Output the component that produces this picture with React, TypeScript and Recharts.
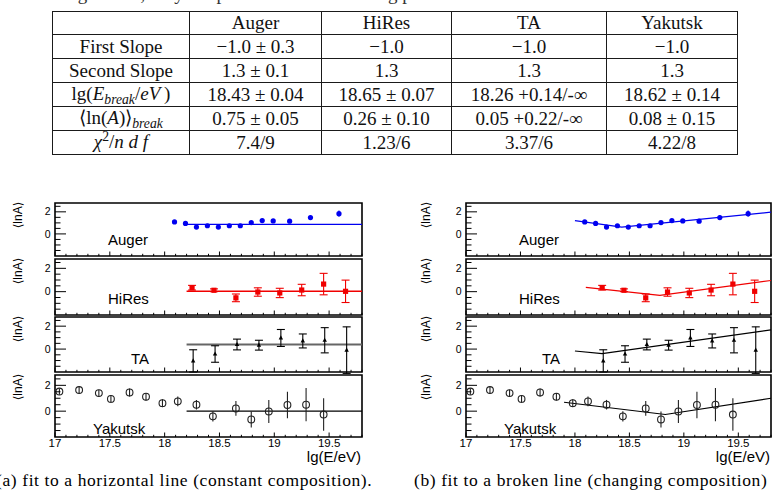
import React from 'react';
import { ComposedChart, Scatter, Line, XAxis, YAxis, ErrorBar, ReferenceArea } from 'recharts';

// ---------- table data ----------
const detectors = ['Auger', 'HiRes', 'TA', 'Yakutsk'];
const firstSlope = ['−1.0 ± 0.3', '−1.0', '−1.0', '−1.0'];
const secondSlope = ['1.3 ± 0.1', '1.3', '1.3', '1.3'];
const lgEbreak = ['18.43 ± 0.04', '18.65 ± 0.07', '18.26 +0.14/-∞', '18.62 ± 0.14'];
const lnAbreak = ['0.75 ± 0.05', '0.26 ± 0.10', '0.05 +0.22/-∞', '0.08 ± 0.15'];
const chi2ndf = ['7.4/9', '1.23/6', '3.37/6', '4.22/8'];

// ---------- axes ----------
const X_DOMAIN: [number, number] = [17, 19.8];
const Y_DOMAIN: [number, number] = [-2, 2.8];
const xMajorTicks = [17, 17.5, 18, 18.5, 19, 19.5];
const xMajorLabels = ['17', '17.5', '18', '18.5', '19', '19.5'];
const yMajorTicks = [0, 2];
const yMajorLabels = ['0', '2'];
const yMinorTicks = [-1.5, -1, -0.5, 0.5, 1, 1.5, 2.5];

// ---------- data ----------
const augerX = [18.09, 18.19, 18.29, 18.39, 18.49, 18.59, 18.69, 18.79, 18.89, 18.99, 19.14, 19.33, 19.59];
const augerY = [1.09, 0.95, 0.62, 0.74, 0.62, 0.74, 0.74, 1.03, 1.21, 1.18, 1.15, 1.48, 1.83];
const augerErr = [0.07, 0.07, 0.07, 0.07, 0.07, 0.07, 0.08, 0.09, 0.1, 0.1, 0.1, 0.18, 0.28];

const hiresX = [18.25, 18.45, 18.65, 18.85, 19.05, 19.25, 19.45, 19.65];
const hiresY = [0.34, 0.12, -0.53, -0.03, -0.11, 0.14, 0.65, 0.03];
const hiresErr = [0.2, 0.12, 0.33, 0.36, 0.4, 0.49, 0.92, 0.96];

const taX = [18.26, 18.46, 18.66, 18.86, 19.06, 19.26, 19.46, 19.66];
const taY = [-1.03, -0.43, 0.4, 0.34, 0.97, 0.71, 0.77, -0.09];
const taErr = [0.97, 0.72, 0.47, 0.43, 0.74, 0.61, 1.1, 2.03];

const yakX = [17.04, 17.22, 17.4, 17.51, 17.68, 17.83, 17.98, 18.12, 18.29, 18.44, 18.65, 18.79, 18.95, 19.12, 19.29, 19.45];
const yakY = [1.52, 1.64, 1.4, 0.95, 1.45, 1.12, 0.62, 0.76, 0.5, -0.4, 0.21, -0.64, -0.02, 0.48, 0.5, -0.26];
const yakErr = [0.24, 0.27, 0.26, 0.29, 0.31, 0.29, 0.31, 0.38, 0.37, 0.4, 0.57, 0.62, 0.89, 1.02, 1.29, 1.26];

// fits: (a) horizontal line, (b) broken line
const augerFlatX = [18.2, 19.8];
const augerFlatY = [0.86, 0.86];
const hiresFlatX = [18.2, 19.8];
const hiresFlatY = [0.03, 0.03];
const taFlatX = [18.2, 19.8];
const taFlatY = [0.4, 0.4];
const yakFlatX = [18.2, 19.8];
const yakFlatY = [0, 0];

const augerBrokenX = [18.0, 18.43, 19.8];
const augerBrokenY = [1.2, 0.62, 1.97];
const hiresBrokenX = [18.1, 18.78, 19.8];
const hiresBrokenY = [0.37, -0.32, 0.96];
const taBrokenX = [18.0, 18.25, 19.8];
const taBrokenY = [-0.17, -0.4, 1.68];
const yakBrokenX = [17.9, 18.83, 19.8];
const yakBrokenY = [0.69, -0.26, 1.0];

const captionA = '(a) fit to a horizontal line (constant composition).';
const captionB = '(b) fit to a broken line (changing composition)';
const topText = 'the target ones, only the position of the breaking point were fitted.';

// ---------- helpers ----------
const zip = (xs: number[], ys: number[], es?: number[]) =>
  xs.map((x, i) => ({ x, y: ys[i], err: es ? es[i] : 0 }));

const xTickList: number[] = [];
for (let i = 0; i <= 28; i++) xTickList.push(Math.round((17 + i * 0.1) * 10) / 10);
const yTickList = [...yMajorTicks, ...yMinorTicks].sort((a, b) => a - b);

const SANS = '"Liberation Sans", Arial, Helvetica, sans-serif';
const SERIF = '"Liberation Serif", "Times New Roman", serif';

const XTick = (props: any) => {
  const { x, y, payload, showLabel } = props;
  const v = payload.value;
  const idx = xMajorTicks.findIndex((t) => Math.abs(t - v) < 1e-6);
  const major = idx >= 0;
  return (
    <g>
      <line x1={x} x2={x} y1={y} y2={y - (major ? 4.5 : 2.2)} stroke="#000" strokeWidth={1} />
      {showLabel && major && (
        <text x={x} y={y + 10} textAnchor="middle" fontSize={11.5} fontFamily={SANS} fill="#000">
          {xMajorLabels[idx]}
        </text>
      )}
    </g>
  );
};

const YTick = (props: any) => {
  const { x, y, payload } = props;
  const v = payload.value;
  const idx = yMajorTicks.findIndex((t) => Math.abs(t - v) < 1e-6);
  const major = idx >= 0;
  return (
    <g>
      <line x1={x} x2={x + (major ? 11 : 5.5)} y1={y} y2={y} stroke="#000" strokeWidth={1} />
      {major && (
        <text x={x - 4.5} y={y + 3.6} textAnchor="end" fontSize={10.5} fontFamily={SANS} fill="#000">
          {yMajorLabels[idx]}
        </text>
      )}
    </g>
  );
};

type Marker = 'circle' | 'square' | 'triangle' | 'open';

const makeShape = (marker: Marker, color: string) => (p: any) => {
  const { cx, cy } = p;
  if (cx == null || cy == null) return <g />;
  if (marker === 'circle') return <circle cx={cx} cy={cy} r={2.6} fill={color} />;
  if (marker === 'square') return <rect x={cx - 2.6} y={cy - 2.6} width={5.2} height={5.2} fill={color} />;
  if (marker === 'triangle')
    return <polygon points={`${cx},${cy - 2.6} ${cx - 2.2},${cy + 1.6} ${cx + 2.2},${cy + 1.6}`} fill={color} />;
  return <circle cx={cx} cy={cy} r={3.4} fill="none" stroke={color} strokeWidth={1.1} />;
};

type SubProps = {
  frameLeft: number;
  frameRight: number;
  frameTop: number;
  frameBottom: number;
  showXLabels: boolean;
  data: { x: number; y: number; err: number }[];
  fit: { x: number; y: number; err: number }[];
  marker: Marker;
  color: string;
  fitColor: string;
  fitWidth: number;
  cap: number;
};

const SubPlot = (s: SubProps) => {
  const yAxisW = 40;
  const padTop = 3;
  const padRight = 3;
  const xAxisH = s.showXLabels ? 16 : 3;
  const w = yAxisW + (s.frameRight - s.frameLeft) + padRight;
  const h = padTop + (s.frameBottom - s.frameTop) + xAxisH;
  return (
    <div style={{ position: 'absolute', left: s.frameLeft - yAxisW, top: s.frameTop - padTop }}>
      <ComposedChart width={w} height={h} margin={{ top: padTop, right: padRight, bottom: 0, left: 0 }}>
        <XAxis
          type="number"
          dataKey="x"
          domain={X_DOMAIN}
          ticks={xTickList}
          interval={0}
          allowDataOverflow
          axisLine={false}
          tickLine={false}
          tickSize={0}
          tickMargin={0}
          height={xAxisH}
          tick={<XTick showLabel={s.showXLabels} />}
        />
        <YAxis
          type="number"
          dataKey="y"
          domain={Y_DOMAIN}
          ticks={yTickList}
          interval={0}
          allowDataOverflow
          axisLine={false}
          tickLine={false}
          tickSize={0}
          tickMargin={0}
          width={yAxisW}
          tick={<YTick />}
        />
        <ReferenceArea
          x1={X_DOMAIN[0]}
          x2={X_DOMAIN[1]}
          y1={Y_DOMAIN[0]}
          y2={Y_DOMAIN[1]}
          fill="none"
          fillOpacity={0}
          stroke="#000"
          strokeWidth={1.6}
          ifOverflow="visible"
        />
        <Line
          data={s.fit}
          dataKey="y"
          type="linear"
          dot={false}
          activeDot={false}
          stroke={s.fitColor}
          strokeWidth={s.fitWidth}
          isAnimationActive={false}
        />
        <Scatter data={s.data} dataKey="y" shape={makeShape(s.marker, s.color)} isAnimationActive={false}>
          <ErrorBar dataKey="err" direction="y" width={s.cap} stroke={s.color} strokeWidth={1.1} />
        </Scatter>
      </ComposedChart>
    </div>
  );
};

const rowsGeom = [
  { top: 203, bottom: 256 },
  { top: 259, bottom: 315 },
  { top: 317, bottom: 372 },
  { top: 375, bottom: 437 },
];

const series = [
  { name: 'Auger', data: zip(augerX, augerY, augerErr), marker: 'circle' as Marker, color: '#0000f0', cap: 0, labelDx: 53, labelY: 245 },
  { name: 'HiRes', data: zip(hiresX, hiresY, hiresErr), marker: 'square' as Marker, color: '#f00000', cap: 4, labelDx: 53, labelY: 304 },
  { name: 'TA', data: zip(taX, taY, taErr), marker: 'triangle' as Marker, color: '#000000', cap: 4, labelDx: 76, labelY: 363.5 },
  { name: 'Yakutsk', data: zip(yakX, yakY, yakErr), marker: 'open' as Marker, color: '#222222', cap: 0, labelDx: 38, labelY: 434 },
];

const leftFits = [
  { fit: zip(augerFlatX, augerFlatY), color: '#0000f0', width: 1.4 },
  { fit: zip(hiresFlatX, hiresFlatY), color: '#f00000', width: 1.4 },
  { fit: zip(taFlatX, taFlatY), color: '#666666', width: 2.2 },
  { fit: zip(yakFlatX, yakFlatY), color: '#000000', width: 1.4 },
];
const rightFits = [
  { fit: zip(augerBrokenX, augerBrokenY), color: '#0000f0', width: 1.2 },
  { fit: zip(hiresBrokenX, hiresBrokenY), color: '#f00000', width: 1.1 },
  { fit: zip(taBrokenX, taBrokenY), color: '#000000', width: 1.1 },
  { fit: zip(yakBrokenX, yakBrokenY), color: '#000000', width: 1.1 },
];

const panels = [
  { frameLeft: 55, frameRight: 362, ylabelX: 17, fits: leftFits },
  { frameLeft: 466, frameRight: 771, ylabelX: 425, fits: rightFits },
];

const cellBase: React.CSSProperties = {
  border: '1.3px solid #1a1a1a',
  padding: 0,
  textAlign: 'center',
  verticalAlign: 'middle',
  height: 23,
  lineHeight: '20px',
  whiteSpace: 'nowrap',
};

const Sub = ({ children }: { children: React.ReactNode }) => (
  <span style={{ fontSize: '0.72em', position: 'relative', top: '0.32em', fontStyle: 'italic' }}>{children}</span>
);

const rowLabels: React.ReactNode[] = [
  'First Slope',
  'Second Slope',
  <span>
    lg(<i>E</i>
    <Sub>break</Sub>/<i>eV</i>&thinsp;)
  </span>,
  <span>
    ⟨ln(<i>A</i>)⟩<Sub>break</Sub>
  </span>,
  <span>
    <i>χ</i>
    <span style={{ fontSize: '0.72em', position: 'relative', top: '-0.45em' }}>2</span>/<i>n d f</i>
  </span>,
];
const rowValues = [firstSlope, secondSlope, lgEbreak, lnAbreak, chi2ndf];
const colWidths = [137, 132, 130, 155, 131];

export default function App() {
  return (
    <div
      style={{
        position: 'absolute',
        left: 0,
        top: 0,
        width: 776,
        height: 490,
        overflow: 'hidden',
        background: '#fff',
      }}
    >
      <table
        style={{
          position: 'absolute',
          left: 52,
          top: 11,
          borderCollapse: 'collapse',
          tableLayout: 'fixed',
          width: 685,
          fontFamily: SERIF,
          fontSize: 19,
          color: '#111',
        }}
      >
        <colgroup>
          {colWidths.map((w, i) => (
            <col key={i} style={{ width: w }} />
          ))}
        </colgroup>
        <tbody>
          <tr>
            <td style={{ ...cellBase, height: 22 }}></td>
            {detectors.map((d) => (
              <td key={d} style={{ ...cellBase, height: 22 }}>
                {d}
              </td>
            ))}
          </tr>
          {rowLabels.map((lab, r) => (
            <tr key={r}>
              <td style={cellBase}>{lab}</td>
              {rowValues[r].map((v, c) => (
                <td key={c} style={cellBase}>
                  {v}
                </td>
              ))}
            </tr>
          ))}
        </tbody>
      </table>

      {panels.map((p, pi) =>
        series.map((s, si) => (
          <SubPlot
            key={`${pi}-${si}`}
            frameLeft={p.frameLeft}
            frameRight={p.frameRight}
            frameTop={rowsGeom[si].top}
            frameBottom={rowsGeom[si].bottom}
            showXLabels={si === 3}
            data={s.data}
            fit={p.fits[si].fit}
            marker={s.marker}
            color={s.color}
            fitColor={p.fits[si].color}
            fitWidth={p.fits[si].width}
            cap={s.cap}
          />
        ))
      )}

      <svg
        width={776}
        height={490}
        style={{ position: 'absolute', left: 0, top: 0, pointerEvents: 'none' }}
      >
        <text x={30} y={0} fontFamily={SERIF} fontSize={19} fill="#333">
          {topText}
        </text>
        {panels.map((p, pi) => (
          <g key={pi}>
            {series.map((s, si) => (
              <g key={si}>
                <text
                  transform={`translate(${p.ylabelX + 4.5},${rowsGeom[si].top + 12}) rotate(-90)`}
                  textAnchor="middle"
                  fontSize={12}
                  fontFamily={`${SANS}, "DejaVu Sans"`}
                  fill="#000"
                >
                  ⟨lnA⟩
                </text>
                <text x={p.frameLeft + s.labelDx} y={s.labelY} fontSize={15} fontFamily={SANS} fill="#000">
                  {s.name}
                </text>
              </g>
            ))}
            <text x={p.frameRight - 1} y={462} textAnchor="end" fontSize={15} fontFamily={SANS} fill="#000">
              lg(E/eV)
            </text>
          </g>
        ))}
        <text x={-4} y={486} fontFamily={SERIF} fontSize={17.5} letterSpacing={0.6} fill="#000">
          {captionA}
        </text>
        <text x={414} y={486} fontFamily={SERIF} fontSize={17.5} letterSpacing={0.6} fill="#000">
          {captionB}
        </text>
      </svg>
    </div>
  );
}
